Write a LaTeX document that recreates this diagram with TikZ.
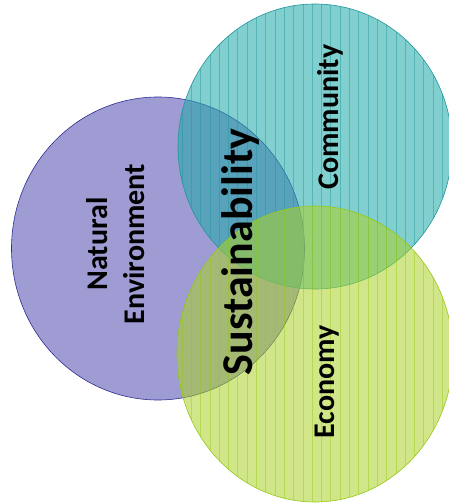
\documentclass[tikz,border=0pt]{standalone}
\usepackage{fontspec}
\setmainfont{Carlito}
\definecolor{ambiente}{RGB}{158,156,210}
\definecolor{ambienteborda}{RGB}{46,46,150}
\definecolor{comunidade}{RGB}{35,170,170}
\definecolor{comunidadeborda}{RGB}{30,150,155}
\definecolor{economia}{RGB}{170,210,40}
\definecolor{economiaborda}{RGB}{150,200,20}
\begin{document}
\begin{tikzpicture}[x=1pt,y=1pt,
  rotulo/.style={font=\bfseries\fontsize{30}{37}\selectfont, rotate=90, align=center},
  listra/.style={line width=0.7pt}]
%\draw [lightgray](0,0) grid[step=50] (449,504);
\useasboundingbox (0,0) rectangle (449,504);

\fill [ambiente] (158,255.5) ellipse [x radius=146.5, y radius=151.5]; % Ambiente
\draw [ambienteborda, semithick] (158,255.5) ellipse [x radius=146.5, y radius=151.5];

\fill [comunidade, fill opacity=0.57] (315,357.5) ellipse [x radius=137, y radius=142.5]; % Comunidade
\begin{scope}
\clip (315,357.5) ellipse [x radius=137, y radius=142.5];
\foreach \x in {182,191.3,...,452}
  \draw [listra, comunidadeborda, opacity=0.45] (\x,210) -- (\x,504);
\end{scope}
\draw [comunidadeborda, semithick] (315,357.5) ellipse [x radius=137, y radius=142.5];

\fill [economia, fill opacity=0.55] (315,150) ellipse [x radius=138, y radius=148]; % Economia
\begin{scope}
\clip (315,150) ellipse [x radius=138, y radius=148];
\foreach \x in {182,191.3,...,452}
  \draw [listra, economiaborda, opacity=0.45] (\x,0) -- (\x,300);
\end{scope}
\draw [economiaborda, semithick] (315,150) ellipse [x radius=138, y radius=148];

\node [rotulo] (ambiente) at (116,260) {Natural\\Environment};
\node [rotulo] (comunidade) at (330,387) {Community};
\node [rotulo] (economia) at (327,122) {Economy};
\node [rotulo, font=\bfseries\fontsize{44}{50}\selectfont] (sustentabilidade) at (241,252) {Sustainability};

\end{tikzpicture}
\end{document}
